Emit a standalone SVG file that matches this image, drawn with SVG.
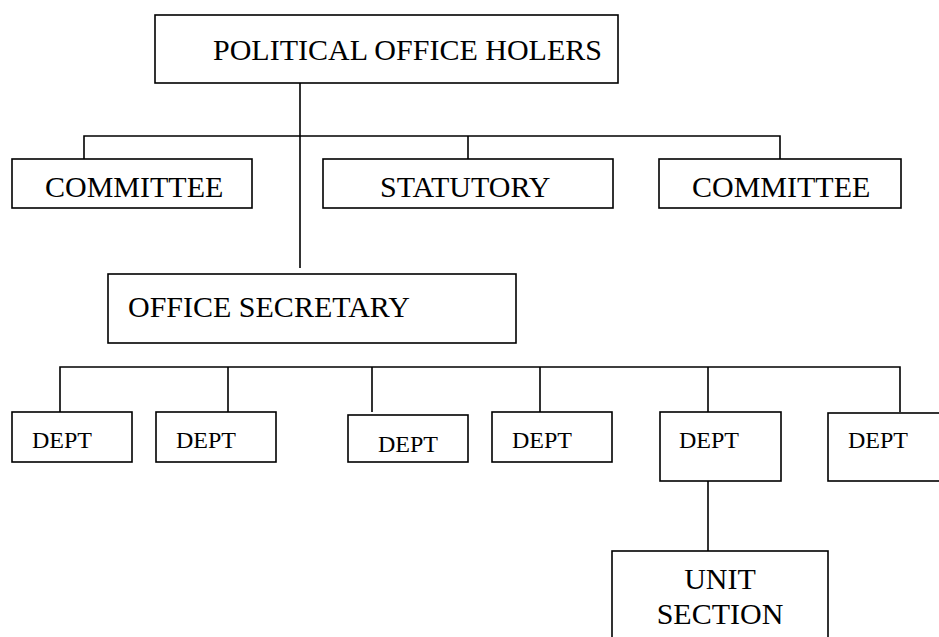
<svg xmlns="http://www.w3.org/2000/svg" width="939" height="637" viewBox="0 0 939 637">
<style>
.box{fill:#fff;stroke:#000;stroke-width:1.6}
.ln{fill:none;stroke:#000;stroke-width:1.6}
.t30{font-family:"Liberation Serif","Times New Roman",serif;font-size:30px;fill:#000}
.t24{font-family:"Liberation Serif","Times New Roman",serif;font-size:24px;fill:#000}
</style>
<rect width="939" height="637" fill="#fff"/>
<g id="connectors">
<path class="ln" d="M300 83V268"/>
<path class="ln" d="M84 159V136H780V159"/>
<path class="ln" d="M468 136V159"/>
<path class="ln" d="M60 412V367H900V412"/>
<path class="ln" d="M228 367V412M372 367V412M540 367V412M708 367V412"/>
<path class="ln" d="M708 481V551"/>
</g>
<g id="political"><rect class="box" x="155" y="15" width="463" height="68"/><text class="t30" x="213" y="60">POLITICAL OFFICE HOLERS</text></g>
<g id="committee1"><rect class="box" x="12" y="159" width="240" height="49"/><text class="t30" x="45" y="197">COMMITTEE</text></g>
<g id="statutory"><rect class="box" x="323" y="159" width="290" height="49"/><text class="t30" x="380" y="197">STATUTORY</text></g>
<g id="committee2"><rect class="box" x="659" y="159" width="242" height="49"/><text class="t30" x="692" y="197">COMMITTEE</text></g>
<g id="secretary"><rect class="box" x="108" y="274" width="408" height="69"/><text class="t30" x="128" y="317">OFFICE SECRETARY</text></g>
<g id="dept1"><rect class="box" x="12" y="412" width="120" height="50"/><text class="t24" x="32" y="448">DEPT</text></g>
<g id="dept2"><rect class="box" x="156" y="412" width="120" height="50"/><text class="t24" x="176" y="448">DEPT</text></g>
<g id="dept3"><rect class="box" x="348" y="415" width="120" height="47"/><text class="t24" x="378" y="452">DEPT</text></g>
<g id="dept4"><rect class="box" x="492" y="412" width="120" height="50"/><text class="t24" x="512" y="448">DEPT</text></g>
<g id="dept5"><rect class="box" x="660" y="412" width="121" height="69"/><text class="t24" x="679" y="448">DEPT</text></g>
<g id="dept6"><rect class="box" x="828" y="413" width="140" height="68"/><text class="t24" x="848" y="448">DEPT</text></g>
<g id="unit"><rect class="box" x="612" y="551" width="216" height="120"/><text class="t30" x="720" y="589" text-anchor="middle">UNIT</text><text class="t30" x="720" y="624" text-anchor="middle">SECTION</text></g>
</svg>
